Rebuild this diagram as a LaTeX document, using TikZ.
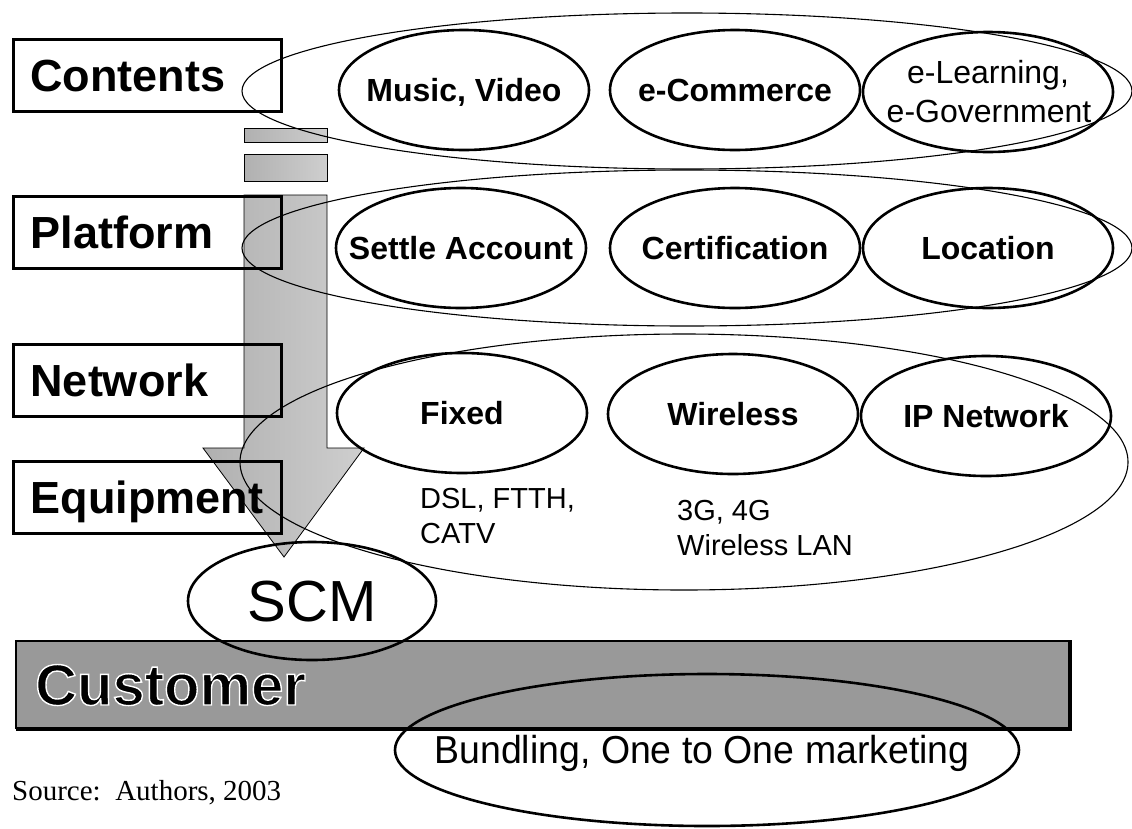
\documentclass[tikz,border=0pt]{standalone}
\usepackage{fontspec}
\setmainfont{Liberation Sans}
\newfontfamily\narrowfont[FakeStretch=0.96]{Liberation Sans}
\newfontfamily\seriffont{Liberation Serif}
\usetikzlibrary{shapes.geometric}

% black glyphs with a thin white outline (PDF text render mode 2)
\newcommand{\haloed}[1]{\special{pdf:literal direct 2 Tr 1.4 w 1 1 1 RG}#1\special{pdf:literal direct 0 Tr}}

\begin{document}
\begin{tikzpicture}[x=1pt,y=-1pt,
  layerbox/.style={draw, line width=3pt, minimum width=268pt, minimum height=72pt,
    inner xsep=17pt, text width=234pt, align=left, anchor=west,
    font=\fontsize{45}{50}\selectfont\bfseries, text height=32pt, text depth=0pt},
  groupring/.style={draw, ellipse, line width=1.1pt, inner sep=0pt},
  itemring/.style={draw, ellipse, line width=2.6pt, inner sep=0pt,
    minimum width=250pt, minimum height=120pt},
  itemtext/.style={font=\fontsize{32}{36}\selectfont\bfseries, inner sep=0pt,
    text height=23pt, text depth=0pt},
  plaintext/.style={font=\fontsize{32}{36}\selectfont, inner sep=0pt, anchor=base},
  subnote/.style={font=\fontsize{29}{34}\selectfont, inner sep=0pt, anchor=base west},
  flowpart/.style={draw=black, line width=0.8pt, left color=gray!62,
    middle color=gray!80, right color=gray!38},
  custtext/.style={font=\fontsize{58}{60}\selectfont\bfseries, inner sep=0pt, anchor=base west}
]
\useasboundingbox (0,0) rectangle (1132,828);

% downward flow arrow with two dashes above it
\path[flowpart] (244,128) rectangle (327,142);
\path[flowpart] (244,154) rectangle (327,181);
\path[flowpart] (244,195) -- (327,195) -- (327,448) -- (364,448) -- (284,557)
  -- (203,448) -- (244,448) -- cycle;

% customer bar
\fill[gray!80] (16,641) rectangle (1070,729);
\draw[line width=1.4pt] (16,729) -- (16,641) -- (1070,641);
\draw[line width=3.2pt] (16,729) -- (1070,729) -- (1070,640);
\node[custtext] (customer) at (35,705) {\haloed{Customer}};

% layer labels
\node[layerbox] (contents)  at (12,75)  {Contents};
\node[layerbox] (platform)  at (12,232) {Platform};
\node[layerbox] (network)   at (12,380) {Network};
\node[layerbox] (equipment) at (12,497) {Equipment};

% grouping rings
\node[groupring, minimum width=890pt, minimum height=156pt] (contentsRing) at (687,91) {};
\node[groupring, minimum width=890pt, minimum height=156pt] (platformRing) at (687,248) {};
\node[groupring, minimum width=888pt, minimum height=256pt] (networkRing)  at (684,462) {};

% contents items
\node[itemring] (music)    at (464,90)  {};
\node[itemring] (commerce) at (735,90)  {};
\node[itemring] (learning) at (988,92)  {};
\node[itemtext] at (music.center)    {Music, Video};
\node[itemtext] at (commerce.center) {e-Commerce};
\node[plaintext] (learn1) at (988,83)  {e-Learning,};
\node[plaintext] (learn2) at (989,122) {e-Government};

% platform items
\node[itemring] (settle)  at (461,248) {};
\node[itemring] (certif)  at (735,248) {};
\node[itemring] (location) at (988,248) {};
\node[itemtext] at (settle.center)   {Settle Account};
\node[itemtext] at (certif.center)   {Certification};
\node[itemtext] at (location.center) {Location};

% network items
\node[itemring] (fixed)    at (462,413) {};
\node[itemring] (wireless) at (733,414) {};
\node[itemring] (ipnet)    at (986,416) {};
\node[itemtext] at (fixed.center)    {Fixed};
\node[itemtext] at (wireless.center) {Wireless};
\node[itemtext] at (ipnet.center)    {IP Network};

\node[subnote] (dsl)   at (420,508) {DSL, FTTH,};
\node[subnote] (catv)  at (420,543) {CATV};
\node[subnote] (g34)   at (677,520) {3G, 4G};
\node[subnote] (wlan)  at (677,555) {Wireless LAN};

% supply chain and customer side
\node[itemring, minimum width=248pt, minimum height=118pt] (scm) at (312,601) {};
\node[font=\fontsize{58}{62}\selectfont, inner sep=0pt, text height=41.5pt, text depth=0pt]
  (scmtext) at (scm.center) {SCM};

\node[itemring, minimum width=624pt, minimum height=152pt] (bundling) at (707,750) {};
\node[font=\narrowfont\fontsize{39}{44}\selectfont, inner sep=0pt, anchor=base]
  (bundletext) at (702,763) {Bundling, One to One marketing};

\node[font=\seriffont\fontsize{29}{34}\selectfont, inner sep=0pt, anchor=base west]
  (source) at (12,800) {Source:\ \ Authors, 2003};
\end{tikzpicture}
\end{document}
